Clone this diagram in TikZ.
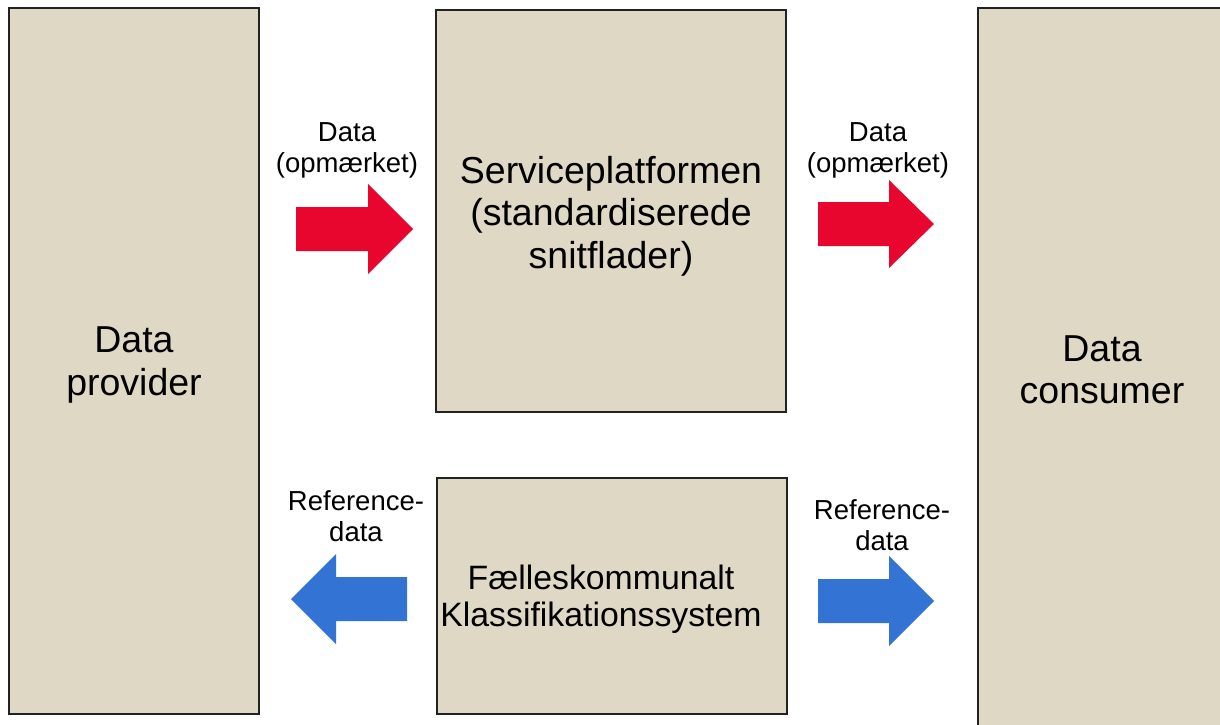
\documentclass[tikz,border=0pt]{standalone}
\usepackage{fontspec}
\setmainfont{Liberation Sans}
\definecolor{boxfill}{HTML}{DFD8C5}
\definecolor{boxline}{HTML}{222222}
\definecolor{arrred}{HTML}{E8062F}
\definecolor{arrblue}{HTML}{3273D3}
\tikzset{
  panel/.style={fill=boxfill,draw=boxline,line width=2pt},
  bigtext/.style={align=center,font=\fontsize{37.5}{42.5}\selectfont,inner sep=0pt},
  midtext/.style={align=center,font=\fontsize{33.8}{37}\selectfont,inner sep=0pt},
  smalltext/.style={align=center,font=\fontsize{27.5}{31}\selectfont,inner sep=0pt},
}
\begin{document}
\begin{tikzpicture}[x=1pt,y=-1pt]
\useasboundingbox (0,0) rectangle (1220,725);
\clip (0,0) rectangle (1220,725);
% boxes
\draw[panel] (9,8) rectangle (259,714);
\draw[panel] (436,10) rectangle (786,412);
\draw[panel] (437,478) rectangle (787,714);
\draw[panel] (978,8) rectangle (1240,740);
% box texts
\node[bigtext] (prov) at (134,365) {Data\\provider};
\node[bigtext] (serv) at (611,216) {Serviceplatformen\\(standardiserede\\snitflader)};
\node[midtext] (fkk) at (601,599) {Fælleskommunalt\\Klassifikationssystem};
\node[bigtext] (cons) at (1102,370) {Data\\consumer};
% arrow labels
\node[smalltext] (l1) at (347,150) {Data\\(opmærket)};
\node[smalltext] (l2) at (878,150) {Data\\(opmærket)};
\node[smalltext] (l3) at (356,516) {Reference-\\data};
\node[smalltext] (l4) at (882,525) {Reference-\\data};
% red arrows
\fill[arrred] (296,207) -- (368,207) -- (368,184) -- (413,229) -- (368,274) -- (368,251) -- (296,251) -- cycle;
\fill[arrred] (818,202) -- (889,202) -- (889,180) -- (934,224) -- (889,268) -- (889,246) -- (818,246) -- cycle;
% blue arrows
\fill[arrblue] (407,577) -- (336,577) -- (336,554) -- (291,599) -- (336,644) -- (336,621) -- (407,621) -- cycle;
\fill[arrblue] (818,579) -- (889,579) -- (889,556) -- (934,601) -- (889,646) -- (889,623) -- (818,623) -- cycle;
\end{tikzpicture}
\end{document}
